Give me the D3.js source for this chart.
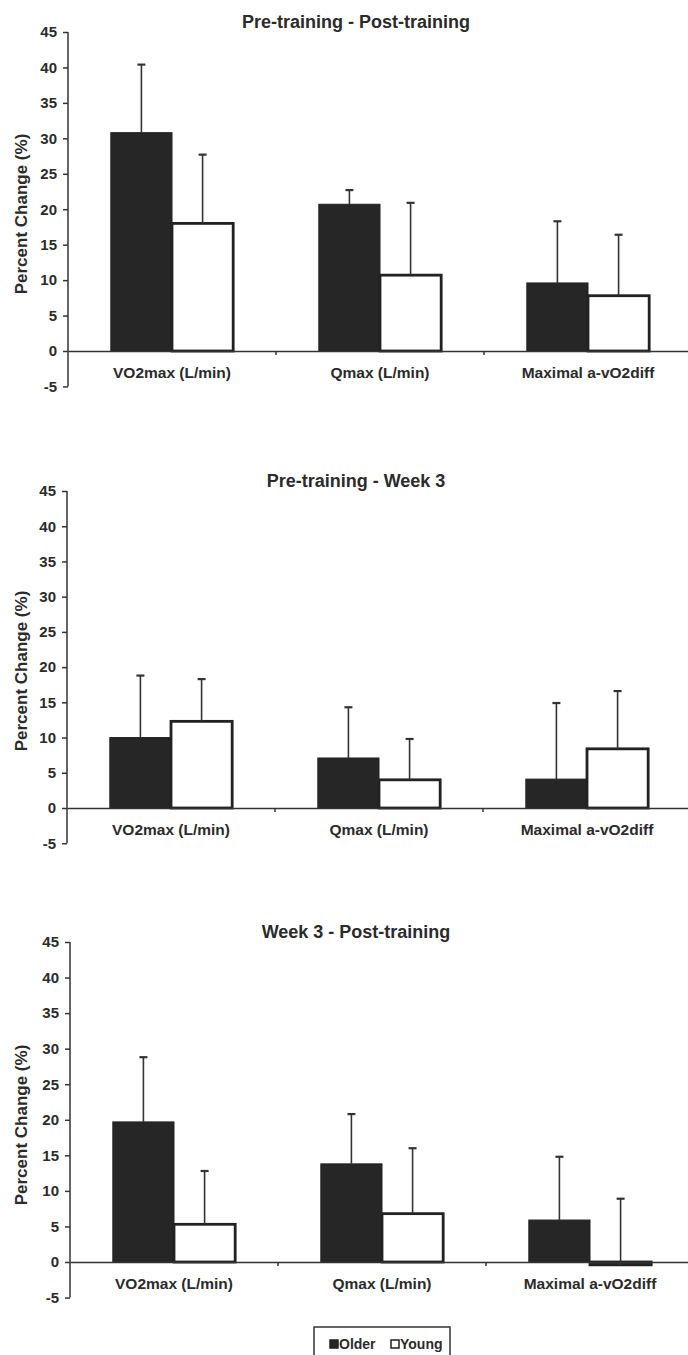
<!DOCTYPE html>
<meta charset="utf-8">
<script src="https://d3js.org/d3.v7.min.js"></script>
<style>
  body { margin: 0; background: #fff; }
  text { font-family: Arial, "Liberation Sans", sans-serif; font-weight: bold; fill: #2b2b2b; }
</style>
<div id="my_dataviz"></div>
<script>

// data (percent change)
var categories = ["VO2max (L/min)", "Qmax (L/min)", "Maximal a-vO2diff"];
var groups = ["Older", "Young"];
var titles = ["Pre-training - Post-training", "Pre-training - Week 3", "Week 3 - Post-training"];
var yTicks = [-5, 0, 5, 10, 15, 20, 25, 30, 35, 40, 45];

var older1 = [30.8, 20.7, 9.6],  olderSD1 = [9.6, 2.0, 8.7];
var young1 = [18.0, 10.7, 7.8],  youngSD1 = [9.7, 10.2, 8.6];
var older2 = [10.0, 7.1, 4.1],   olderSD2 = [8.8, 7.2, 10.8];
var young2 = [12.3, 4.0, 8.4],   youngSD2 = [6.0, 5.8, 8.2];
var older3 = [19.7, 13.8, 5.9],  olderSD3 = [9.1, 7.0, 8.9];
var young3 = [5.3, 6.8, -0.4],   youngSD3 = [7.5, 9.2, 9.3];

var width = 688, height = 1355;

var svg = d3.select("#my_dataviz")
  .append("svg")
    .attr("width", width)
    .attr("height", height);

// panel placement: left axis x, y pixel of 45 and of 0
var panels = [
  {title: titles[0], ax: 68, top: 32,  zero: 351,  older: older1, olderSD: olderSD1, young: young1, youngSD: youngSD1},
  {title: titles[1], ax: 67, top: 491, zero: 808,  older: older2, olderSD: olderSD2, young: young2, youngSD: youngSD2},
  {title: titles[2], ax: 70, top: 942, zero: 1262, older: older3, olderSD: olderSD3, young: young3, youngSD: youngSD3}
];

var band = 208;
var fills = {Older: "#262626", Young: "#ffffff"};

panels.forEach(function(p) {
  var g = svg.append("g");

  var y = d3.scaleLinear()
    .domain([0, 45])
    .range([p.zero, p.top]);

  var x0 = d3.scaleBand()
    .domain(categories)
    .range([p.ax, p.ax + band * 3]);

  var x1 = d3.scaleBand()
    .domain(groups)
    .range([0, x0.bandwidth()])
    .paddingOuter(0.7);

  // bars
  var rows = categories.map(function(c, i) {
    return [
      {cat: c, grp: "Older", v: p.older[i], sd: p.olderSD[i]},
      {cat: c, grp: "Young", v: p.young[i], sd: p.youngSD[i]}
    ];
  });
  var flat = [].concat.apply([], rows);

  g.selectAll("rect.bar")
    .data(flat)
    .enter()
    .append("rect")
      .attr("class", "bar")
      .attr("x", function(d) { return x0(d.cat) + x1(d.grp); })
      .attr("y", function(d) { return y(Math.max(0, d.v)); })
      .attr("width", x1.bandwidth())
      .attr("height", function(d) { return Math.abs(y(d.v) - y(0)); })
      .attr("fill", function(d) { return fills[d.grp]; })
      .attr("stroke", "#222")
      .attr("stroke-width", function(d) { return d.grp == "Young" ? 2.8 : 1; });

  // error bars (plus direction only)
  var cx = function(d) { return x0(d.cat) + x1(d.grp) + x1.bandwidth() / 2; };
  g.selectAll("line.err")
    .data(flat)
    .enter()
    .append("line")
      .attr("x1", cx).attr("x2", cx)
      .attr("y1", function(d) { return y(d.v); })
      .attr("y2", function(d) { return y(d.v + d.sd); })
      .attr("stroke", "#333")
      .attr("stroke-width", 1.6);
  g.selectAll("line.cap")
    .data(flat)
    .enter()
    .append("line")
      .attr("x1", function(d) { return cx(d) - 4; })
      .attr("x2", function(d) { return cx(d) + 4; })
      .attr("y1", function(d) { return y(d.v + d.sd); })
      .attr("y2", function(d) { return y(d.v + d.sd); })
      .attr("stroke", "#333")
      .attr("stroke-width", 2.2);

  // Y axis
  var yAxis = g.append("g")
    .attr("transform", "translate(" + p.ax + ",0)")
    .call(d3.axisLeft(y).tickValues(yTicks).tickFormat(function(d) { return String(d); }).tickSize(5).tickSizeOuter(0));
  yAxis.select(".domain").attr("d", "M0," + y(45) + "V" + y(-5)).attr("stroke", "#333").attr("stroke-width", 1.5);
  yAxis.selectAll(".tick line").attr("stroke", "#333").attr("stroke-width", 1.5);
  yAxis.selectAll(".tick text")
    .attr("x", -11)
    .style("font-size", "15px")
    .style("font-family", "Arial, 'Liberation Sans', sans-serif")
    .style("font-weight", "bold")
    .attr("fill", "#2b2b2b");

  // X axis at zero
  var xAxis = g.append("g")
    .attr("transform", "translate(0," + y(0) + ")")
    .call(d3.axisBottom(x0).tickSize(0).tickSizeOuter(0));
  xAxis.select(".domain").attr("stroke", "#333").attr("stroke-width", 1.5);
  xAxis.selectAll(".tick text")
    .attr("y", 16)
    .style("font-size", "15.5px")
    .style("font-family", "Arial, 'Liberation Sans', sans-serif")
    .style("font-weight", "bold")
    .attr("fill", "#2b2b2b");

  // small ticks between categories
  g.selectAll("line.sep")
    .data(categories.slice(1))
    .enter()
    .append("line")
      .attr("x1", function(d) { return x0(d); })
      .attr("x2", function(d) { return x0(d); })
      .attr("y1", y(0))
      .attr("y2", y(0) + 4)
      .attr("stroke", "#333")
      .attr("stroke-width", 1.5);

  // title
  g.append("text")
    .attr("x", 356)
    .attr("y", p.top - 4)
    .style("text-anchor", "middle")
    .style("font-size", "18px")
    .text(p.title);

  // y label
  g.append("text")
    .attr("transform", "translate(27," + (p.zero - 137) + ")rotate(-90)")
    .style("text-anchor", "middle")
    .style("font-size", "17px")
    .text("Percent Change (%)");
});

// legend
var legend = svg.append("g");
legend.append("rect")
  .attr("x", 314).attr("y", 1327)
  .attr("width", 136).attr("height", 40)
  .attr("fill", "none")
  .attr("stroke", "#333")
  .attr("stroke-width", 1.5);

var lx = [330, 391];
groups.forEach(function(gname, i) {
  legend.append("rect")
    .attr("x", lx[i]).attr("y", 1340)
    .attr("width", 8).attr("height", 8)
    .attr("fill", fills[gname])
    .attr("stroke", "#222")
    .attr("stroke-width", 1.5);
  legend.append("text")
    .attr("x", lx[i] + 9)
    .attr("y", 1349)
    .style("font-size", "14px")
    .text(gname);
});

</script>
